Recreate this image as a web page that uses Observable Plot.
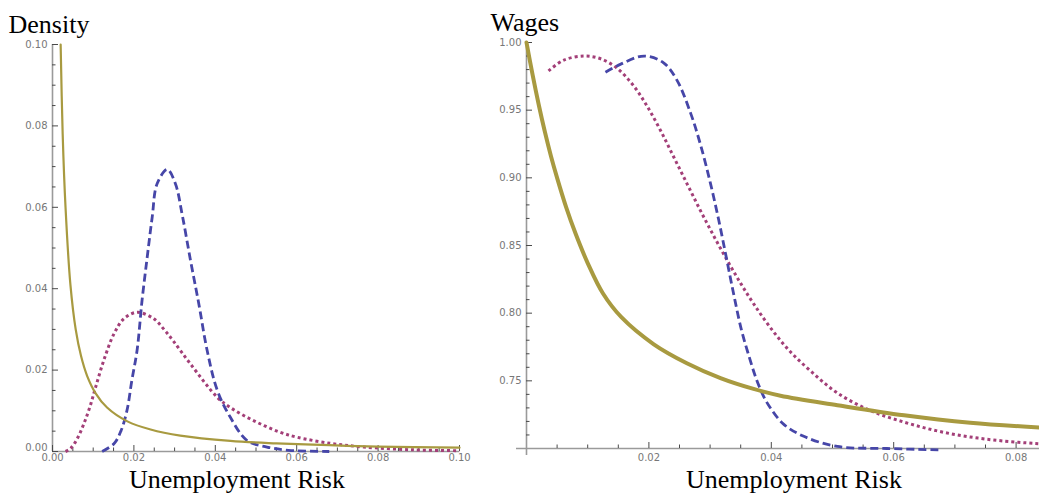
<!DOCTYPE html>
<html><head><meta charset="utf-8">
<script src="https://cdn.jsdelivr.net/npm/d3@7"></script>
<script src="https://cdn.jsdelivr.net/npm/@observablehq/plot@0.6"></script>
<style>
html,body{margin:0;padding:0;background:#fff;}
#wrap{position:relative;width:1039px;height:493px;overflow:hidden;background:#fff;}
#left{position:absolute;left:0;top:0;}
#right{position:absolute;left:480px;top:0;}
</style></head><body><div id="wrap"><div id="left"></div><div id="right"></div></div>
<script>
// ---- Data ----
const leftTitle = "Density";
const rightTitle = "Wages";
const xTitle = "Unemployment Risk";

const leftXTicks = [0, 0.02, 0.04, 0.06, 0.08, 0.10];
const leftYTicks = [0, 0.02, 0.04, 0.06, 0.08, 0.10];
const rightXTicks = [0.02, 0.04, 0.06, 0.08];
const rightYTicks = [0.75, 0.80, 0.85, 0.90, 0.95, 1.00];

// Left panel: density
const leftGold = [[0.0020,0.100],[0.0025,0.078],[0.0032,0.060],[0.0044,0.041],[0.0057,0.030],[0.0070,0.0235],[0.0085,0.0186],[0.0106,0.0143],[0.0134,0.0108],[0.0184,0.0074],[0.0241,0.0054],[0.0314,0.0039],[0.0437,0.0026],[0.055,0.0020],[0.068,0.00155],[0.080,0.0012],[0.100,0.00095]];
const leftBlue = [[0.0122,0],[0.0151,0.0019],[0.0168,0.0050],[0.0183,0.0101],[0.0195,0.0175],[0.0208,0.0250],[0.0220,0.0371],[0.0233,0.0480],[0.0245,0.0576],[0.0257,0.0658],[0.0282,0.0693],[0.0302,0.0658],[0.0319,0.0580],[0.0339,0.0470],[0.0360,0.0360],[0.0380,0.0248],[0.0405,0.0150],[0.0437,0.0084],[0.0478,0.0027],[0.0527,0.0011],[0.058,0.0003],[0.068,0]];
const leftPink = [[0.0032,0],[0.0044,0.0007],[0.0060,0.0030],[0.0077,0.0068],[0.0092,0.0110],[0.0106,0.0158],[0.0126,0.0224],[0.0151,0.0289],[0.0175,0.0326],[0.0208,0.0342],[0.0249,0.0326],[0.0274,0.0300],[0.0298,0.0270],[0.0339,0.0215],[0.0405,0.0133],[0.0437,0.0108],[0.0478,0.0084],[0.0519,0.0064],[0.0560,0.0047],[0.0601,0.0035],[0.0683,0.0020],[0.0765,0.0011],[0.0888,0.0004],[0.100,0.0002]];

// Right panel: wages
const rightGold = [[0,1.000],[0.001,0.976],[0.002,0.954],[0.003,0.934],[0.004,0.916],[0.005,0.900],[0.0065,0.878],[0.008,0.859],[0.010,0.837],[0.0125,0.8145],[0.0155,0.797],[0.0208,0.777],[0.0262,0.763],[0.0317,0.752],[0.0371,0.744],[0.0415,0.739],[0.0508,0.732],[0.0617,0.7245],[0.0725,0.719],[0.0838,0.7155]];
const rightBlue = [[0.0129,0.978],[0.0154,0.984],[0.0192,0.990],[0.0224,0.985],[0.0246,0.972],[0.0268,0.948],[0.0284,0.925],[0.0300,0.897],[0.0314,0.869],[0.0327,0.840],[0.0339,0.813],[0.0351,0.788],[0.0363,0.769],[0.0375,0.752],[0.0388,0.738],[0.0400,0.729],[0.0420,0.718],[0.0453,0.709],[0.0508,0.7015],[0.0589,0.700],[0.0676,0.699]];
const rightPink = [[0.0036,0.979],[0.0061,0.987],[0.0094,0.990],[0.0121,0.988],[0.0148,0.981],[0.0175,0.968],[0.0197,0.953],[0.0219,0.935],[0.0241,0.915],[0.0263,0.895],[0.0284,0.876],[0.0306,0.857],[0.0328,0.839],[0.0350,0.822],[0.0371,0.807],[0.0399,0.789],[0.0430,0.772],[0.0465,0.757],[0.0508,0.741],[0.0562,0.728],[0.0617,0.7195],[0.0671,0.7130],[0.0725,0.7085],[0.0780,0.7055],[0.0838,0.7035]];

// ---- Styles ----
const GOLD = "#a89a40", BLUE = "#4646a8", PINK = "#a33f78";
const AXIS = "#9a9a9a", TICK = "#4a4a4a", LABEL = "#777";
const serif = "Liberation Serif, Times New Roman, serif";

const near = (a, b) => Math.abs(a - b) < 1e-9;
function minorOf(major, lo, hi, step) {
  return d3.range(lo, hi + step / 2, step).map(v => +v.toFixed(4)).filter(v => !major.some(m => near(m, v)));
}

function panel({W, H, mL, mT, mR, mB, xDomain, yDomain, xTicks, yTicks, xMinor, yMinor, gold, blue, pink, goldWidth, title, titleDx, titleDy, xLabelDx, xLabelDy, xTickPad, extendAxes}) {
  const fw = W - mL - mR, fh = H - mT - mB;
  const yBase = yDomain[0];
  const fmt = d3.format(".2f");
  const yUpper = yTicks.filter(t => !near(t, yBase));
  const yLow = yTicks.filter(t => near(t, yBase));
  return Plot.plot({
    width: W, height: H, marginLeft: mL, marginTop: mT, marginRight: mR, marginBottom: mB,
    style: {fontFamily: "DejaVu Sans, Liberation Sans, sans-serif", fontSize: "10px", background: "transparent", overflow: "visible"},
    x: {domain: xDomain},
    y: {domain: yDomain},
    marks: [
      Plot.ruleY([yBase], {stroke: AXIS, strokeWidth: 1.6, insetLeft: extendAxes ? -10 : 0}),
      Plot.ruleX([0], {stroke: AXIS, strokeWidth: 1.6, insetBottom: extendAxes ? -7 : 0}),
      Plot.tickX(xTicks, {x: d => d, insetTop: fh - 6, stroke: TICK, strokeWidth: 1}),
      Plot.tickX(xMinor, {x: d => d, insetTop: fh - 3.5, stroke: TICK, strokeWidth: 1}),
      Plot.tickY(yTicks, {y: d => d, insetRight: fw - 6, stroke: TICK, strokeWidth: 1}),
      Plot.tickY(yMinor, {y: d => d, insetRight: fw - 3.5, stroke: TICK, strokeWidth: 1}),
      Plot.axisX({ticks: xTicks, tickSize: 0, tickPadding: xTickPad, tickFormat: fmt, fill: LABEL, label: null}),
      Plot.axisY({ticks: yUpper, tickSize: 0, tickPadding: 5, tickFormat: fmt, fill: LABEL, label: null}),
      Plot.axisY({ticks: yLow, tickSize: 0, tickPadding: 5, tickFormat: fmt, fill: LABEL, label: null, dy: -4}),
      Plot.line(pink, {x: d => d[0], y: d => d[1], stroke: PINK, strokeWidth: 3, strokeDasharray: "3,3", strokeLinecap: "butt", curve: "catmull-rom"}),
      Plot.line(blue, {x: d => d[0], y: d => d[1], stroke: BLUE, strokeWidth: 2.8, strokeDasharray: "8,4", strokeLinecap: "butt", curve: "catmull-rom"}),
      Plot.line(gold, {x: d => d[0], y: d => d[1], stroke: GOLD, strokeWidth: goldWidth, curve: "catmull-rom"}),
      Plot.text([title], {text: d => d, frameAnchor: "top-left", textAnchor: "start", lineAnchor: "bottom", dx: titleDx, dy: titleDy, fontFamily: serif, fontSize: 26, fill: "#000"}),
      Plot.text([xTitle], {text: d => d, frameAnchor: "bottom", textAnchor: "middle", lineAnchor: "bottom", dx: xLabelDx, dy: xLabelDy, fontFamily: serif, fontSize: 26, fill: "#000"})
    ]
  });
}

const left = panel({
  W: 480, H: 493, mL: 52, mT: 44, mR: 21, mB: 42,
  xDomain: [0, 0.10], yDomain: [0, 0.10],
  xTicks: leftXTicks, yTicks: leftYTicks,
  xMinor: minorOf(leftXTicks, 0.005, 0.10, 0.005),
  yMinor: minorOf(leftYTicks, 0.005, 0.10, 0.005),
  gold: leftGold, blue: leftBlue, pink: leftPink, goldWidth: 2.2,
  title: leftTitle, titleDx: -44, titleDy: -12,
  xLabelDx: -19, xLabelDy: 36, xTickPad: 2, extendAxes: false
});
document.getElementById("left").appendChild(left);

const right = panel({
  W: 559, H: 493, mL: 46, mT: 42, mR: 0, mB: 45,
  xDomain: [0, 513 / 6120], yDomain: [0.70, 1.00],
  xTicks: rightXTicks, yTicks: rightYTicks,
  xMinor: minorOf(rightXTicks, 0.005, 0.0835, 0.005),
  yMinor: minorOf(rightYTicks, 0.71, 0.99, 0.01),
  gold: rightGold, blue: rightBlue, pink: rightPink, goldWidth: 4,
  title: rightTitle, titleDx: -36, titleDy: -12,
  xLabelDx: 11, xLabelDy: 39, xTickPad: 5, extendAxes: true
});
document.getElementById("right").appendChild(right);
</script>
</body></html>
